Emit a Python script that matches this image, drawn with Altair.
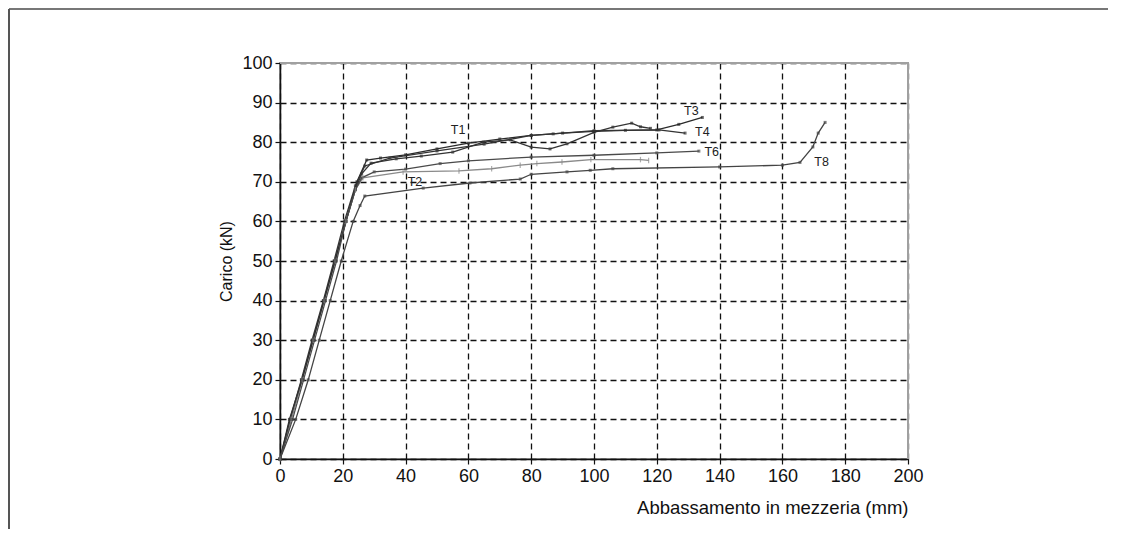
import altair as alt
import pandas as pd

# ---- data (x: mm, y: kN) ----
T1_x = [0, 3.5, 7, 10.5, 14, 17.5, 21, 24, 26, 29, 37, 45, 55, 64.8, 73.3, 80, 86, 91.4, 100, 106, 112, 114.8, 118]
T1_y = [0, 10, 20, 30, 40, 50, 60, 68, 72, 74.7, 75.8, 76.5, 77.5, 80, 80.6, 78.75, 78.3, 79.6, 82.5, 83.8, 84.8, 83.9, 83.5]

T2_x = [0, 3.5, 7, 10.5, 14, 17.5, 21, 24, 26.4, 39.2, 57, 67.4, 76.5, 81.8, 89.8, 99, 114.8, 117.4]
T2_y = [0, 10, 20, 30, 40, 50, 60, 68, 71, 72.5, 72.75, 73.3, 74.2, 74.6, 75, 75.6, 75.6, 75.4]

T3_x = [0, 3, 7, 10.5, 14, 17.5, 21, 24.5, 27.6, 32, 40, 50, 60, 70, 80, 90, 100, 110, 120, 127, 134.5]
T3_y = [0, 10, 20, 30, 40, 50, 60, 70, 75.5, 76, 76.8, 78.3, 79.75, 80.8, 81.7, 82.3, 82.75, 83, 83.1, 84.5, 86.25]

T4_x = [0, 3.2, 6.8, 10.2, 13.8, 17.2, 20.5, 24, 27, 35, 50, 65, 80, 87, 100, 120.7, 129]
T4_y = [0, 10, 20, 30, 40, 50, 60, 69, 74, 76, 77.8, 79.5, 81.7, 82.1, 82.9, 83.1, 82.3]

T6_x = [0, 4, 7.5, 11, 14.5, 18, 21, 24, 26, 30, 40, 51, 60, 80, 100, 120, 133.4]
T6_y = [0, 10, 20, 30, 40, 50, 60, 68, 71, 72.5, 73.2, 74.6, 75.3, 76.25, 76.7, 77.3, 77.75]

T8_x = [0, 5, 9, 12.5, 16, 19.5, 23.3, 25.5, 27, 45.6, 60.5, 76.5, 80, 91.4, 98.8, 106, 140, 160, 165.6, 169.7, 171.4, 173.6]
T8_y = [0, 10, 20, 30, 40, 50, 60, 64, 66.4, 68.4, 69.7, 70.7, 71.9, 72.5, 72.9, 73.3, 73.75, 74.2, 74.9, 78.8, 82.3, 85]

series_names = ["T1", "T2", "T3", "T4", "T6", "T8"]
series_colors = ["#333333", "#8a8a8a", "#2a2a2a", "#333333", "#4a4a4a", "#444444"]

label_text = ["T1", "T2", "T3", "T4", "T6", "T8"]
label_x = [56.7, 43, 131, 134.5, 137.5, 172.5]
label_y = [83, 70, 88, 82.7, 77.5, 75]

x_ticks = [0, 20, 40, 60, 80, 100, 120, 140, 160, 180, 200]
y_ticks = [0, 10, 20, 30, 40, 50, 60, 70, 80, 90, 100]

# ---- build tables ----
rows = []
for name, xs, ys in [("T1", T1_x, T1_y), ("T2", T2_x, T2_y), ("T3", T3_x, T3_y),
                     ("T4", T4_x, T4_y), ("T6", T6_x, T6_y), ("T8", T8_x, T8_y)]:
    for i, (a, b) in enumerate(zip(xs, ys)):
        rows.append({"series": name, "x": a, "y": b, "i": i})
df = pd.DataFrame(rows)
labels = pd.DataFrame({"t": label_text, "x": label_x, "y": label_y})

FONT = "Liberation Sans"
color = alt.Color("series:N", scale=alt.Scale(domain=series_names, range=series_colors), legend=None)

x_axis = alt.Axis(values=x_ticks, tickCount=30, title="Abbassamento in mezzeria (mm)",
                  titleAnchor="end", titlePadding=13, titleFontSize=18.5, labelPadding=3,
                  labelFlush=False, labelOverlap=False)
y_axis = alt.Axis(values=y_ticks, tickCount=30, title="Carico (kN)", titlePadding=7, titleFontSize=16,
                  labelPadding=3, labelFlush=False, labelOverlap=False)
xs_ = alt.Scale(domain=[0, 200], nice=False)
ys_ = alt.Scale(domain=[0, 100], nice=False)


def X():
    return alt.X("x:Q", scale=xs_, axis=x_axis)


def Y():
    return alt.Y("y:Q", scale=ys_, axis=y_axis)


lines = alt.Chart(df).mark_line(strokeWidth=1.3).encode(
    x=X(), y=Y(), color=color, detail="series:N", order="i:Q")

pts_main = alt.Chart(df).transform_filter("datum.series != 'T2'").mark_point(
    filled=True, size=9, shape="square").encode(x=X(), y=Y(), color=color)

pts_t2 = alt.Chart(df).transform_filter("datum.series == 'T2'").mark_point(
    shape="M0,-1L0,1", size=30, strokeWidth=1.2).encode(x=X(), y=Y(), color=color)

text = alt.Chart(labels).mark_text(font=FONT, fontSize=12.5, color="#222222").encode(
    x=X(), y=Y(), text="t:N")

# solid grey plot border over the last gridlines
border_top = alt.Chart(alt.Data(values=[{}])).mark_rule(color="#a0a0a0", strokeWidth=2).encode(
    y=alt.datum(100, scale=ys_), x=alt.value(0), x2=alt.value(628))
border_right = alt.Chart(alt.Data(values=[{}])).mark_rule(color="#a0a0a0", strokeWidth=2).encode(
    x=alt.datum(200, scale=xs_), y=alt.value(0), y2=alt.value(396))

frame_top = alt.Chart(alt.Data(values=[{}])).mark_rule(color="#777777", strokeWidth=2).encode(
    x=alt.value(-271), x2=alt.value(960), y=alt.value(-54))
frame_left = alt.Chart(alt.Data(values=[{}])).mark_rule(color="#555555", strokeWidth=2).encode(
    x=alt.value(-271), y=alt.value(-54), y2=alt.value(490))

chart = alt.layer(lines, pts_main, pts_t2, text, border_top, border_right, frame_top, frame_left).properties(
    width=628, height=396,
    autosize=alt.AutoSizeParams(type="none"),
    padding={"left": 272, "top": 55, "right": 200, "bottom": 70},
    background="white",
).configure_view(
    stroke="#a0a0a0", strokeWidth=2
).configure_axis(
    labelFont=FONT, titleFont=FONT, labelFontSize=18,
    titleFontWeight="normal", labelColor="#111111", titleColor="#111111",
    domainColor="#111111", domainWidth=1.5, tickColor="#111111", tickSize=5, tickWidth=1.2,
    gridColor="#111111", gridDash=[6, 4], gridWidth=1.3,
)

chart.save("out.html", embed_options={"renderer": "svg", "actions": False})
